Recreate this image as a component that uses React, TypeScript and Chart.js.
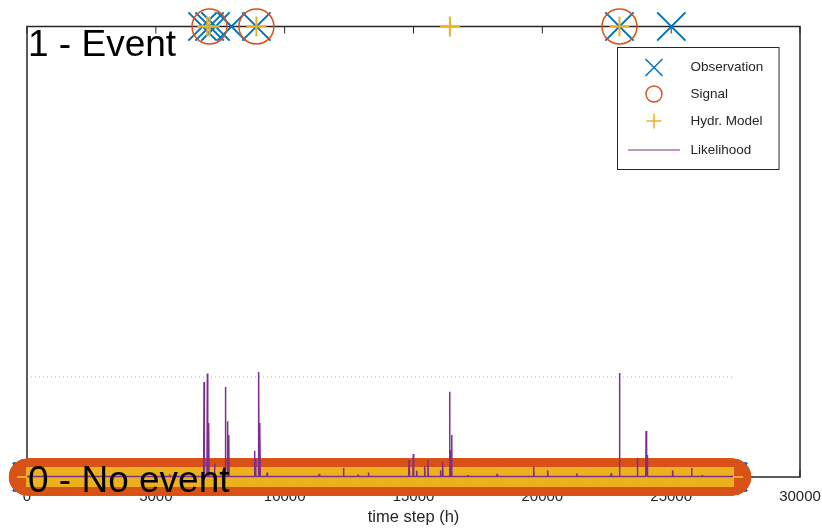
import React, { useEffect, useRef } from 'react';
import { Chart, registerables } from 'chart.js';

Chart.register(...registerables);

// ---------------- data ----------------
const T_END = 27400; // last time step (h)
const STEP = 10; // sampling of the "no event" class markers
const X_TICKS = [0, 5000, 10000, 15000, 20000, 25000, 30000];

const OBS_EVENTS = [6813, 7084, 7316, 7936, 8903, 22994, 25006];
const SIGNAL_EVENTS = [7084, 8903, 22994];
const MODEL_EVENTS = [6995, 7084, 8903, 16413, 22994];

const LIKELIHOOD_BASE = 0.001;
const SPIKE_T = [
  5535, 6870, 7000, 7050, 7277, 7700, 7780, 7830, 8830, 8870, 8990, 9040, 9318,
  11342, 12283, 12852, 13250, 14826, 14993, 15124, 15434, 15561, 16053, 16130,
  16401, 16440, 16479, 17122, 18244, 19665, 20207, 21341, 22672, 22994, 23690,
  24027, 24066, 25057, 25792, 26206,
];
const SPIKE_V = [
  0.006, 0.211, 0.23, 0.12, 0.03, 0.2, 0.124, 0.093, 0.058, 0.04, 0.233, 0.12, 0.01,
  0.007, 0.02, 0.005, 0.01, 0.038, 0.051, 0.014, 0.024, 0.038, 0.015, 0.034,
  0.189, 0.06, 0.093, 0.004, 0.007, 0.023, 0.015, 0.008, 0.008, 0.231, 0.043,
  0.102, 0.049, 0.015, 0.02, 0.004,
];
const THRESHOLD = 0.222;

const SERIES_NAMES = ['Observation', 'Signal', 'Hydr. Model', 'Likelihood'];
const CLASS_LABELS = ['0 - No event', '1 - Event'];
const X_TITLE = 'time step (h)';

const COLORS = {
  obs: '#0072BD',
  sig: '#D95319',
  model: '#EDB120',
  lik: '#7E2F8E',
  thr: 'rgba(119,172,48,0.7)',
  axis: '#262626',
};

const FONT = '"Liberation Sans", Arial, Helvetica, sans-serif';

function classSeries(events: number[]) {
  const pts: { x: number; y: number }[] = [];
  for (let t = 0; t <= T_END; t += STEP) pts.push({ x: t, y: 0 });
  events.forEach((t) => pts.push({ x: t, y: 1 }));
  return pts;
}

function likelihoodSeries() {
  const pts: { x: number; y: number }[] = [{ x: 0, y: LIKELIHOOD_BASE }];
  const half = 15;
  SPIKE_T.forEach((t, i) => {
    pts.push({ x: t - half, y: LIKELIHOOD_BASE });
    pts.push({ x: t, y: SPIKE_V[i] });
    pts.push({ x: t + half, y: LIKELIHOOD_BASE });
  });
  pts.push({ x: T_END, y: LIKELIHOOD_BASE });
  return pts;
}

const axesPlugin = {
  id: 'matlabAxes',
  beforeDatasetsDraw(chart: any) {
    const { ctx, chartArea } = chart;
    const xs = chart.scales.x;
    ctx.save();
    ctx.strokeStyle = COLORS.axis;
    ctx.lineWidth = 1.5;
    ctx.strokeRect(chartArea.left, chartArea.top, chartArea.right - chartArea.left, chartArea.bottom - chartArea.top);
    ctx.lineWidth = 1;
    X_TICKS.forEach((v) => {
      const px = xs.getPixelForValue(v);
      ctx.beginPath();
      ctx.moveTo(px, chartArea.bottom);
      ctx.lineTo(px, chartArea.bottom - 7);
      ctx.moveTo(px, chartArea.top);
      ctx.lineTo(px, chartArea.top + 7);
      ctx.stroke();
    });
    ctx.restore();
  },
};

const overlayPlugin = {
  id: 'overlay',
  afterDraw(chart: any) {
    const { ctx, chartArea } = chart;
    const ys = chart.scales.y;
    ctx.save();
    // class labels
    ctx.fillStyle = '#000';
    ctx.font = `37px ${FONT}`;
    ctx.textBaseline = 'alphabetic';
    ctx.textAlign = 'left';
    ctx.fillText(CLASS_LABELS[1], chartArea.left + 1, ys.getPixelForValue(1) + 29);
    ctx.fillText(CLASS_LABELS[0], chartArea.left + 1, ys.getPixelForValue(0) + 15);

    // legend box
    const bx = chartArea.right - 182.5;
    const by = chartArea.top + 21;
    const bw = 161.5;
    const bh = 122;
    ctx.fillStyle = '#fff';
    ctx.fillRect(bx, by, bw, bh);
    ctx.strokeStyle = COLORS.axis;
    ctx.lineWidth = 1;
    ctx.strokeRect(bx, by, bw, bh);

    const mx = bx + 36.5;
    const tx = bx + 73;
    const rowY = [by + 20, by + 46.5, by + 73.5, by + 102.5];
    ctx.lineWidth = 1.5;
    // Observation (x)
    ctx.strokeStyle = COLORS.obs;
    ctx.beginPath();
    ctx.moveTo(mx - 8.5, rowY[0] - 8.5);
    ctx.lineTo(mx + 8.5, rowY[0] + 8.5);
    ctx.moveTo(mx + 8.5, rowY[0] - 8.5);
    ctx.lineTo(mx - 8.5, rowY[0] + 8.5);
    ctx.stroke();
    // Signal (o)
    ctx.strokeStyle = COLORS.sig;
    ctx.beginPath();
    ctx.arc(mx, rowY[1], 8, 0, Math.PI * 2);
    ctx.stroke();
    // Model (+)
    ctx.strokeStyle = COLORS.model;
    ctx.beginPath();
    ctx.moveTo(mx - 7.5, rowY[2]);
    ctx.lineTo(mx + 7.5, rowY[2]);
    ctx.moveTo(mx, rowY[2] - 7.5);
    ctx.lineTo(mx, rowY[2] + 7.5);
    ctx.stroke();
    // Likelihood (line)
    ctx.strokeStyle = COLORS.lik;
    ctx.lineWidth = 1;
    ctx.beginPath();
    ctx.moveTo(bx + 10.5, rowY[3]);
    ctx.lineTo(bx + 62.5, rowY[3]);
    ctx.stroke();

    ctx.fillStyle = COLORS.axis;
    ctx.font = `13.5px ${FONT}`;
    ctx.textBaseline = 'middle';
    SERIES_NAMES.forEach((n, i) => ctx.fillText(n, tx, rowY[i]));
    ctx.restore();
  },
};

export default function App() {
  const ref = useRef<HTMLCanvasElement | null>(null);

  useEffect(() => {
    if (!ref.current) return;
    const chart = new Chart(ref.current, {
      type: 'scatter',
      data: {
        datasets: [
          {
            label: SERIES_NAMES[3],
            data: likelihoodSeries(),
            showLine: true,
            borderColor: COLORS.lik,
            backgroundColor: COLORS.lik,
            borderWidth: 1.5,
            borderJoinStyle: 'bevel',
            pointRadius: 0,
            order: 0,
            clip: false,
          } as any,
          {
            label: 'threshold',
            data: [
              { x: 0, y: THRESHOLD },
              { x: T_END, y: THRESHOLD },
            ],
            showLine: true,
            borderColor: COLORS.thr,
            borderWidth: 1,
            borderDash: [1, 3],
            pointRadius: 0,
            order: 1,
          } as any,
          {
            label: SERIES_NAMES[2],
            data: classSeries(MODEL_EVENTS),
            pointStyle: 'cross',
            pointRadius: 10,
            borderColor: COLORS.model,
            backgroundColor: 'rgba(0,0,0,0)',
            borderWidth: 2,
            order: 2,
            clip: false,
          } as any,
          {
            label: SERIES_NAMES[1],
            data: classSeries(SIGNAL_EVENTS),
            pointStyle: 'circle',
            pointRadius: 17.5,
            borderColor: COLORS.sig,
            backgroundColor: 'rgba(0,0,0,0)',
            borderWidth: 1.5,
            order: 3,
            clip: false,
          } as any,
          {
            label: SERIES_NAMES[0],
            data: classSeries(OBS_EVENTS),
            pointStyle: 'crossRot',
            pointRadius: 20,
            borderColor: COLORS.obs,
            backgroundColor: 'rgba(0,0,0,0)',
            borderWidth: 2,
            order: 4,
            clip: false,
          } as any,
        ],
      },
      options: {
        animation: false,
        responsive: false,
        events: [],
        layout: { padding: { top: 26.5, right: 21, left: 0, bottom: 0 } },
        plugins: {
          legend: { display: false },
          tooltip: { enabled: false },
        },
        scales: {
          x: {
            type: 'linear',
            min: 0,
            max: 30000,
            grid: { display: false, drawTicks: false },
            border: { display: false },
            ticks: {
              stepSize: 5000,
              color: COLORS.axis,
              font: { family: FONT, size: 15 },
              padding: 11,
              maxRotation: 0,
              callback: (v: any) => String(v),
            },
            title: {
              display: true,
              text: X_TITLE,
              color: COLORS.axis,
              font: { family: FONT, size: 16.5 },
              padding: { top: 0, bottom: 2 },
            },
            afterFit: (s: any) => {
              s.height = 52;
              s.paddingLeft = 0;
              s.paddingRight = 0;
            },
          },
          y: {
            type: 'linear',
            min: 0,
            max: 1,
            grid: { display: false, drawTicks: false },
            border: { display: false },
            ticks: { display: false },
            afterFit: (s: any) => {
              s.width = 27;
              s.paddingTop = 0;
              s.paddingBottom = 0;
            },
          },
        },
      } as any,
      plugins: [axesPlugin, overlayPlugin],
    });
    return () => chart.destroy();
  }, []);

  return (
    <div style={{ position: 'absolute', left: 0, top: 0, width: 822, height: 529, background: '#fff' }}>
      <canvas ref={ref} width={822} height={529} style={{ display: 'block' }} />
    </div>
  );
}
